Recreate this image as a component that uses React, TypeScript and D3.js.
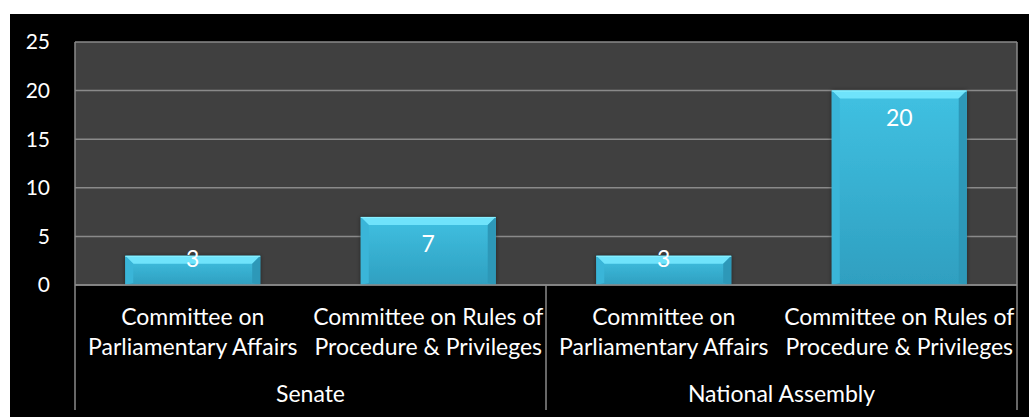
import * as d3 from "d3";
import React from "react";

const groups = ["Senate", "National Assembly"];
const committeeLines = [
  ["Committee on", "Parliamentary Affairs"],
  ["Committee on Rules of", "Procedure & Privileges"],
];
const values = [3, 7, 3, 20];
const yTicks = [0, 5, 10, 15, 20, 25];

const W = 1029;
const H = 417;
const FONT = "Lato, 'Open Sans', sans-serif";

const plot = { left: 75, right: 1017, top: 42, bottom: 285 };

export default function App() {
  const cats = values.map((_, i) => i);
  const x = d3
    .scaleBand<number>()
    .domain(cats)
    .range([plot.left, plot.right])
    .paddingInner(0.427)
    .paddingOuter(0.2135);
  const y = d3.scaleLinear().domain([0, 25]).range([plot.bottom, plot.top]);
  const step = x.step();
  const groupW = step * committeeLines.length;
  const bev = 8;

  return (
    <svg
      width={W}
      height={H}
      style={{ position: "absolute", left: 0, top: 0 }}
      fontFamily={FONT}
    >
      <defs>
        <linearGradient id="barBody" x1="0" y1="0" x2="0" y2="1">
          <stop offset="0%" stopColor="#40c1e2" />
          <stop offset="100%" stopColor="#2f9fc0" />
        </linearGradient>
        <filter id="shadow" x="-10%" y="-10%" width="120%" height="120%">
          <feDropShadow dx="0" dy="0" stdDeviation="2" floodColor="#000" floodOpacity="0.5" />
        </filter>
      </defs>
      <rect x={0} y={0} width={W} height={H} fill="#ffffff" />
      <rect x={10} y={14} width={W - 10} height={H - 14} fill="#000000" />
      <rect
        x={plot.left}
        y={plot.top}
        width={plot.right - plot.left}
        height={plot.bottom - plot.top}
        fill="#404040"
      />
      {yTicks.map((t) => (
        <g key={t}>
          <line
            x1={plot.left}
            x2={plot.right}
            y1={y(t)}
            y2={y(t)}
            stroke="#8a8a8a"
            strokeWidth={1.5}
          />
          <text
            x={50}
            y={y(t)}
            dy="0.35em"
            textAnchor="end"
            fill="#ffffff"
            fontSize={21}
          >
            {t}
          </text>
        </g>
      ))}
      <line x1={plot.left} x2={plot.left} y1={plot.top} y2={plot.bottom} stroke="#8a8a8a" strokeWidth={1.5} />
      <line x1={plot.right} x2={plot.right} y1={plot.top} y2={plot.bottom} stroke="#8a8a8a" strokeWidth={1.5} />

      {values.map((v, i) => {
        const x0 = x(i)!;
        const bw = x.bandwidth();
        const top = y(v);
        const bot = y(0);
        const b = Math.min(bev, (bot - top) / 2);
        const labelY = Math.min(top + 35, bot - 18);
        return (
          <g key={i}>
            <g filter="url(#shadow)">
              <rect x={x0} y={top} width={bw} height={bot - top} fill="url(#barBody)" />
            </g>
            <polygon
              points={`${x0},${top} ${x0 + bw},${top} ${x0 + bw - b},${top + b} ${x0 + b},${top + b}`}
              fill="#6fe3fb"
            />
            <polygon
              points={`${x0},${top} ${x0 + b},${top + b} ${x0 + b},${bot - 2} ${x0},${bot}`}
              fill="#3ab5d8"
            />
            <polygon
              points={`${x0 + bw},${top} ${x0 + bw - b},${top + b} ${x0 + bw - b},${bot - 2} ${x0 + bw},${bot}`}
              fill="#2d98b8"
            />
            <line x1={x0} x2={x0 + bw} y1={top + 0.5} y2={top + 0.5} stroke="#8af0ff" strokeWidth={1} />
            <text
              x={x0 + bw / 2}
              y={labelY}
              textAnchor="middle"
              fill="#ffffff"
              fontSize={23}
            >
              {v}
            </text>
          </g>
        );
      })}

      <line x1={plot.left} x2={plot.right} y1={plot.bottom} y2={plot.bottom} stroke="#8a8a8a" strokeWidth={1.5} />
      {[0, 1, 2].map((k) => (
        <line
          key={k}
          x1={plot.left + k * groupW}
          x2={plot.left + k * groupW}
          y1={plot.bottom}
          y2={410}
          stroke="#8a8a8a"
          strokeWidth={1.5}
        />
      ))}

      {values.map((_, i) => {
        const cx = x(i)! + x.bandwidth() / 2;
        const lines = committeeLines[i % committeeLines.length];
        return (
          <text key={i} textAnchor="middle" fill="#ffffff" fontSize={23}>
            {lines.map((ln, j) => (
              <tspan key={j} x={cx} y={325 + j * 30}>
                {ln}
              </tspan>
            ))}
          </text>
        );
      })}

      {groups.map((g, k) => (
        <text
          key={g}
          x={plot.left + k * groupW + groupW / 2}
          y={402}
          textAnchor="middle"
          fill="#ffffff"
          fontSize={23}
        >
          {g}
        </text>
      ))}
    </svg>
  );
}
